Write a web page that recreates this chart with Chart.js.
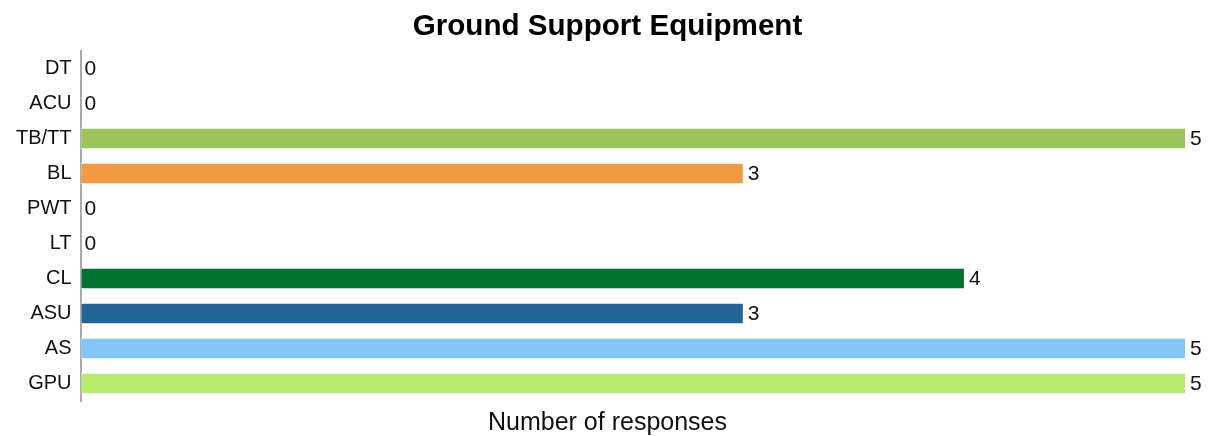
<!DOCTYPE html>
<html>
<head>
<meta charset="utf-8">
<script src="https://cdn.jsdelivr.net/npm/chart.js@4.4.1/dist/chart.umd.min.js"></script>
<style>
  html, body { margin: 0; padding: 0; background: #fff; }
  #wrap { width: 1215px; height: 436px; position: relative; }
</style>
</head>
<body>
<div id="wrap"><canvas id="gseChart"></canvas></div>
<script>
// Equipment types and response counts
const categories = ['DT', 'ACU', 'TB/TT', 'BL', 'PWT', 'LT', 'CL', 'ASU', 'AS', 'GPU'];
const responses = [0, 0, 5, 3, 0, 0, 4, 3, 5, 5];
const barColors = ['#9bc55a', '#9bc55a', '#9bc55a', '#f39b41', '#9bc55a', '#9bc55a', '#027230', '#236397', '#83c7fa', '#b8ec6c'];
const chartTitle = 'Ground Support Equipment';
const xAxisTitle = 'Number of responses';

const FONT = "'Liberation Sans', Arial, Helvetica, sans-serif";

// Count next to each bar, plus title and x axis title centred on the page
const valueLabels = {
    id: 'valueLabels',
    afterDatasetsDraw(chart) {
        const ctx = chart.ctx;
        const meta = chart.getDatasetMeta(0);
        ctx.save();
        ctx.fillStyle = '#111';
        ctx.font = '21px ' + FONT;
        ctx.textAlign = 'left';
        ctx.textBaseline = 'middle';
        meta.data.forEach((bar, i) => {
            ctx.fillText(String(responses[i]), bar.x + 4, bar.y + 1);
        });
        ctx.textAlign = 'center';
        ctx.textBaseline = 'alphabetic';
        ctx.font = '25px ' + FONT;
        ctx.fillText(xAxisTitle, chart.width / 2, 430);
        ctx.fillStyle = '#000';
        ctx.font = 'bold 29.6px ' + FONT;
        ctx.fillText(chartTitle, chart.width / 2, 35);
        ctx.restore();
    }
};

new Chart(document.getElementById('gseChart'), {
    type: 'bar',
    data: {
        labels: categories,
        datasets: [{
            data: responses,
            backgroundColor: barColors,
            borderColor: 'rgba(255,255,255,0.55)',
            borderWidth: 1,
            borderSkipped: false,
            barPercentage: 0.66,
            categoryPercentage: 0.92
        }]
    },
    options: {
        indexAxis: 'y',
        responsive: true,
        maintainAspectRatio: false,
        animation: false,
        layout: { padding: { left: 7, right: 29, top: 51, bottom: 27 } },
        plugins: {
            legend: { display: false },
            tooltip: { enabled: false },
            title: { display: false }
        },
        scales: {
            x: {
                min: 0,
                max: 5,
                grid: { display: false },
                border: { display: false },
                ticks: { display: false }
            },
            y: {
                grid: { display: false, drawTicks: false },
                border: { display: true, color: '#aaa', width: 2 },
                ticks: {
                    color: '#111',
                    font: { family: FONT, size: 20 },
                    padding: 9
                }
            }
        }
    },
    plugins: [valueLabels]
});
</script>
</body>
</html>
